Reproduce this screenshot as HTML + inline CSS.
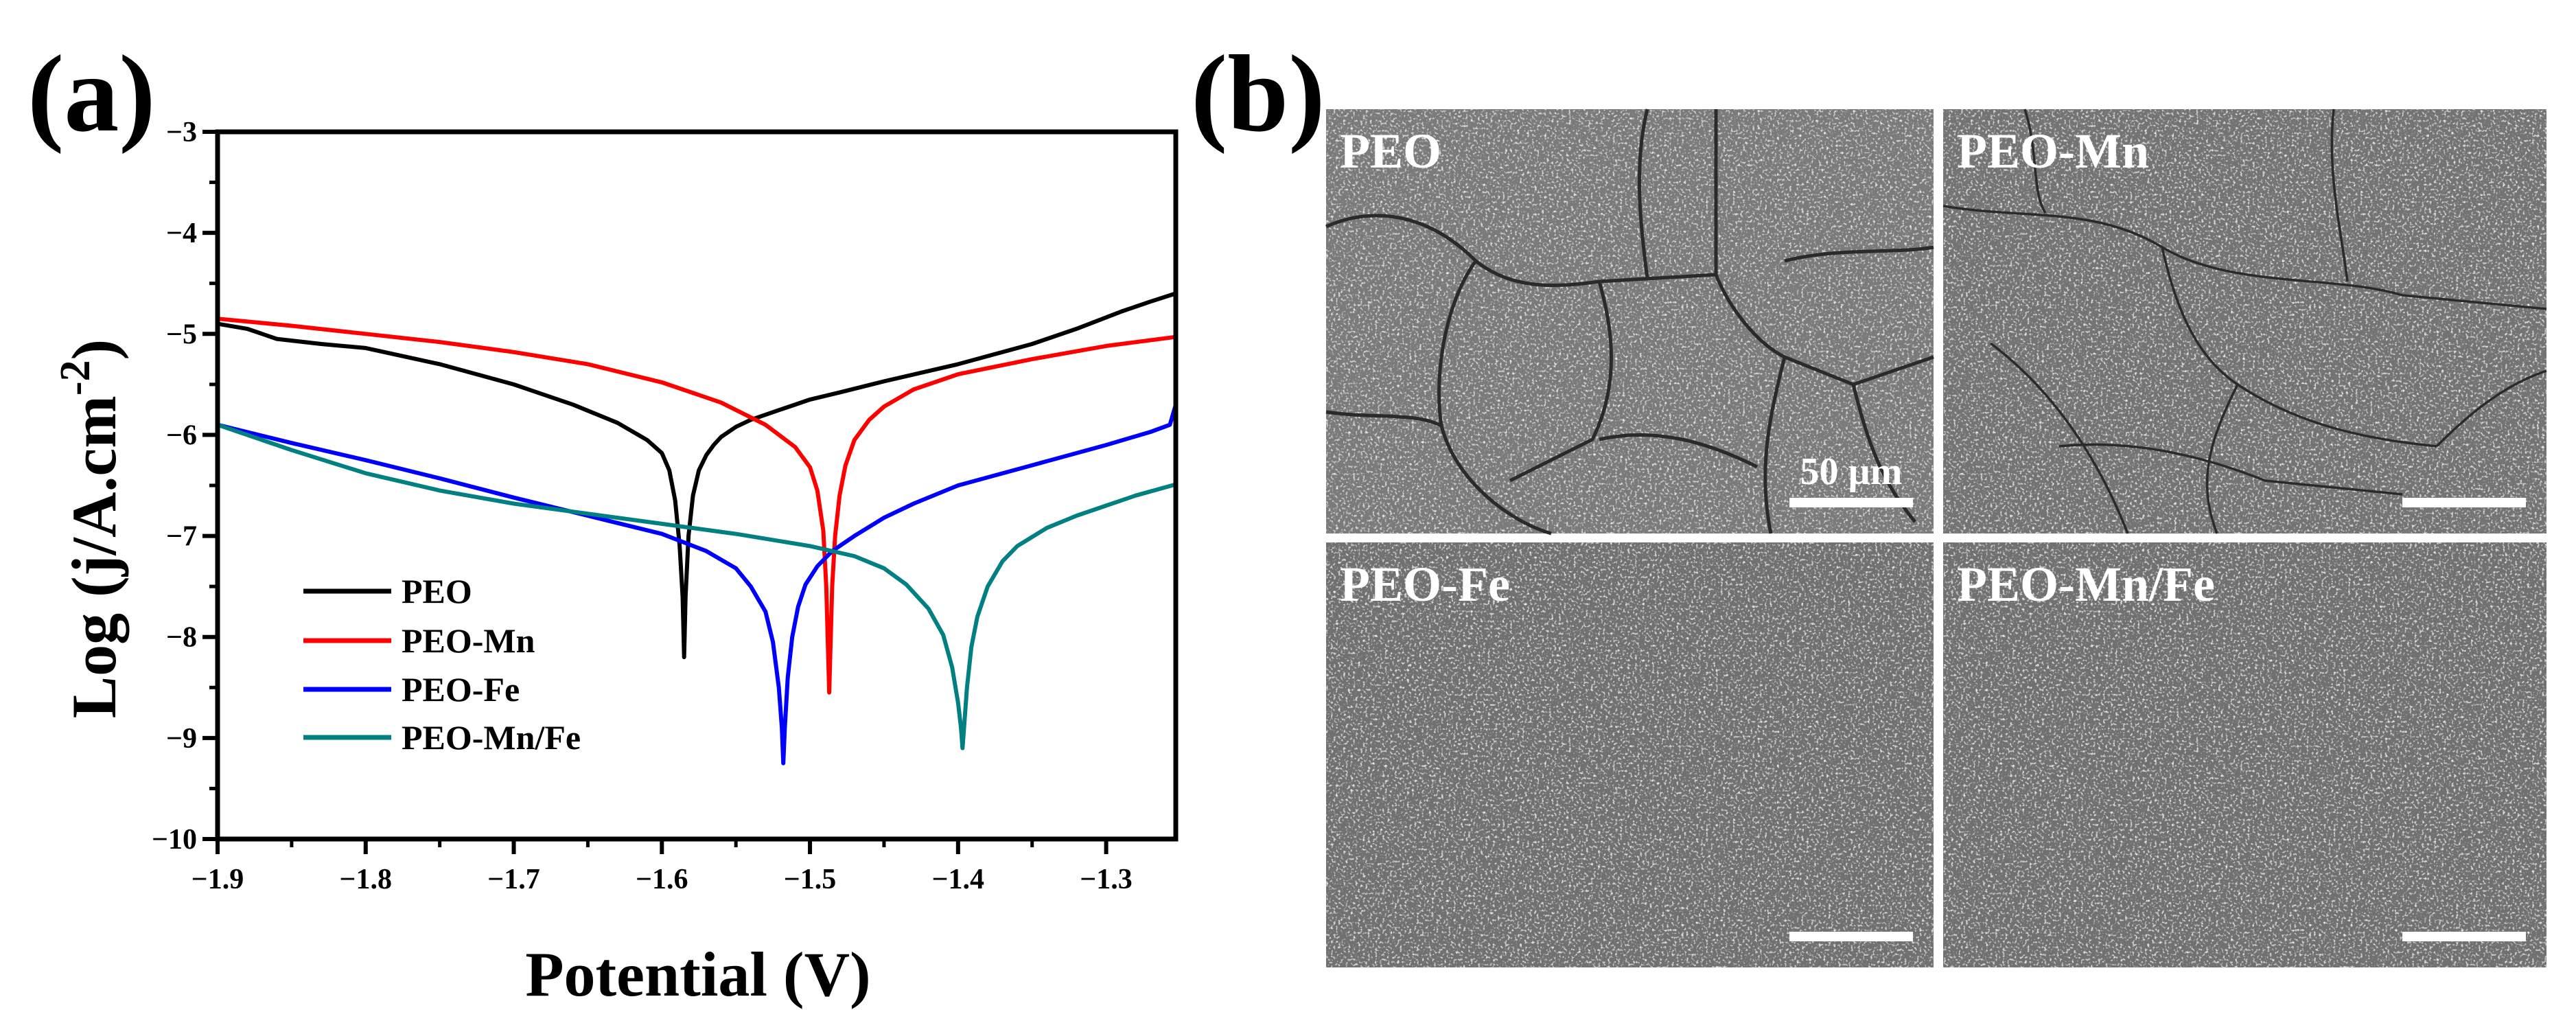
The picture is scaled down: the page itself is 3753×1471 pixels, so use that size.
<!DOCTYPE html>
<html><head><meta charset="utf-8">
<style>
html,body{margin:0;padding:0;background:#fff;}
body{width:3753px;height:1471px;overflow:hidden;position:relative;font-family:"Liberation Serif",serif;}
svg text{font-family:"Liberation Serif",serif;font-weight:bold;}
</style></head>
<body>
<svg id="chart" width="3753" height="1471" viewBox="0 0 3753 1471" xmlns="http://www.w3.org/2000/svg" style="position:absolute;left:0;top:0">
<defs>
<filter id="noise" x="0" y="0" width="100%" height="100%">
<feTurbulence type="fractalNoise" baseFrequency="0.28" numOctaves="2" seed="3" result="t"/>
<feColorMatrix type="matrix" values="0 0 0 0 0.92  0 0 0 0 0.92  0 0 0 0 0.92  3.2 0 0 0 -1.75" result="dots"/>
<feComposite in="dots" in2="SourceGraphic" operator="over"/>
</filter>
</defs>
<text x="40" y="190" font-size="160">(a)</text>
<text x="1735" y="190" font-size="160">(b)</text>
<g id="plot"></g>
<g id="sem"></g>
</svg>
<script>
const xTicks=[-1.9,-1.8,-1.7,-1.6,-1.5,-1.4,-1.3];
const yTicks=[-3,-4,-5,-6,-7,-8,-9,-10];
const seriesNames=["PEO","PEO-Mn","PEO-Fe","PEO-Mn/Fe"];
const seriesColors=["#000000","#ff0000","#0000ff","#008080"];
const peoX=[-1.9,-1.88,-1.86,-1.83,-1.8,-1.75,-1.7,-1.66,-1.63,-1.61,-1.6,-1.595,-1.591,-1.588,-1.586,-1.585,-1.584,-1.582,-1.579,-1.575,-1.57,-1.565,-1.56,-1.55,-1.54,-1.52,-1.5,-1.48,-1.45,-1.4,-1.35,-1.32,-1.29,-1.27,-1.253];
const peoY=[-4.9,-4.95,-5.05,-5.1,-5.14,-5.3,-5.5,-5.7,-5.88,-6.05,-6.18,-6.35,-6.65,-7.1,-7.6,-8.2,-7.6,-7.0,-6.6,-6.35,-6.2,-6.1,-6.02,-5.92,-5.85,-5.75,-5.65,-5.58,-5.47,-5.3,-5.1,-4.95,-4.78,-4.68,-4.6];
const mnX=[-1.9,-1.85,-1.8,-1.75,-1.7,-1.65,-1.6,-1.56,-1.53,-1.51,-1.5,-1.495,-1.491,-1.489,-1.487,-1.485,-1.483,-1.48,-1.476,-1.47,-1.46,-1.45,-1.43,-1.4,-1.35,-1.3,-1.253];
const mnY=[-4.85,-4.92,-5.0,-5.08,-5.18,-5.3,-5.48,-5.68,-5.9,-6.12,-6.32,-6.55,-6.95,-7.5,-8.55,-7.5,-7.0,-6.6,-6.3,-6.05,-5.85,-5.72,-5.55,-5.4,-5.25,-5.12,-5.03];
const feX=[-1.9,-1.85,-1.8,-1.75,-1.7,-1.65,-1.6,-1.57,-1.55,-1.54,-1.53,-1.525,-1.521,-1.519,-1.518,-1.517,-1.515,-1.512,-1.508,-1.503,-1.495,-1.485,-1.47,-1.45,-1.43,-1.4,-1.35,-1.3,-1.27,-1.257,-1.253];
const feY=[-5.9,-6.08,-6.25,-6.43,-6.62,-6.8,-6.98,-7.15,-7.32,-7.5,-7.75,-8.05,-8.5,-8.9,-9.25,-8.9,-8.4,-8.0,-7.7,-7.48,-7.3,-7.15,-7.0,-6.82,-6.68,-6.5,-6.3,-6.1,-5.97,-5.9,-5.7];
const mfX=[-1.9,-1.85,-1.8,-1.75,-1.7,-1.65,-1.6,-1.55,-1.5,-1.47,-1.45,-1.435,-1.42,-1.41,-1.404,-1.4,-1.398,-1.397,-1.396,-1.394,-1.391,-1.387,-1.38,-1.37,-1.36,-1.34,-1.32,-1.3,-1.28,-1.253];
const mfY=[-5.9,-6.15,-6.38,-6.55,-6.68,-6.78,-6.88,-6.98,-7.1,-7.2,-7.32,-7.48,-7.72,-7.98,-8.3,-8.65,-8.9,-9.1,-8.9,-8.5,-8.1,-7.8,-7.5,-7.25,-7.1,-6.92,-6.8,-6.7,-6.6,-6.49];
const allX=[peoX,mnX,feX,mfX], allY=[peoY,mnY,feY,mfY];

const NS="http://www.w3.org/2000/svg";
const L=317,R=1713,T=192,B=1222, X0=-1.9,X1=-1.253,Y0=-10,Y1=-3;
const sx=v=>L+(v-X0)/(X1-X0)*(R-L);
const sy=v=>B-(v-Y0)/(Y1-Y0)*(B-T);
const plot=document.getElementById('plot');
function mk(tag,attrs,parent){const e=document.createElementNS(NS,tag);for(const k in attrs)e.setAttribute(k,attrs[k]);(parent||plot).appendChild(e);return e;}

allX.forEach((xs,i)=>{
  const d=xs.map((x,j)=>(j?'L':'M')+sx(x).toFixed(1)+','+sy(allY[i][j]).toFixed(1)).join(' ');
  const p=mk('path',{d:d,fill:'none',stroke:seriesColors[i],'stroke-width':6,'stroke-linejoin':'round'});
  
  
});
const fr=mk('rect',{x:L,y:T,width:R-L,height:B-T,fill:'none',stroke:'#000','stroke-width':7});


yTicks.forEach(v=>{
  const y=sy(v);
  mk('line',{x1:L-22,x2:L,y1:y,y2:y,stroke:'#000','stroke-width':6});
  if(v>Y0){mk('line',{x1:L-12,x2:L,y1:sy(v-0.5),y2:sy(v-0.5),stroke:'#000','stroke-width':5});}
  const t=mk('text',{x:L-30,y:y+14,'font-size':42,'text-anchor':'end'});
  t.textContent='\u2212'+Math.abs(v);
  
  
});
xTicks.forEach(v=>{
  const x=sx(v);
  mk('line',{x1:x,x2:x,y1:B,y2:B+22,stroke:'#000','stroke-width':6});
  if(v+0.05<X1)mk('line',{x1:sx(v+0.05),x2:sx(v+0.05),y1:B,y2:B+12,stroke:'#000','stroke-width':5});
  const t=mk('text',{x:x,y:B+72,'font-size':42,'text-anchor':'middle'});
  t.textContent='\u2212'+Math.abs(v).toFixed(1);
  
  
});
const xt=mk('text',{x:1017,y:1450,'font-size':92,'text-anchor':'middle'});
xt.textContent='Potential (V)';


const yt=mk('text',{x:0,y:0,'font-size':92,'text-anchor':'middle',transform:'translate(168,770) rotate(-90)'});
yt.innerHTML='Log (j/A.cm<tspan dy="-38" font-size="62">-2</tspan><tspan dy="38">)</tspan>';


const legY=[861,933,1004,1074];
seriesNames.forEach((n,i)=>{
  const g=mk('g',{});
  
  
  mk('line',{x1:442,x2:570,y1:legY[i],y2:legY[i],stroke:seriesColors[i],'stroke-width':7},g);
  const t=mk('text',{x:585,y:legY[i]+17,'font-size':50},g);t.textContent=n;
});

const sem=document.getElementById('sem');
const panels=[{x:1932,y:159,w:885,h:618,n:'PEO',c:'#7a7a7a'},{x:2831,y:159,w:879,h:618,n:'PEO-Mn',c:'#737373'},
{x:1932,y:790,w:885,h:619,n:'PEO-Fe',c:'#6f6f6f'},{x:2831,y:790,w:879,h:619,n:'PEO-Mn/Fe',c:'#6f6f6f'}];
const cracks=[
["M1932,330 C2000,300 2080,310 2150,380 C2200,420 2260,420 2330,410 L2500,400","M2150,380 C2100,450 2090,560 2100,620 C2120,700 2200,760 2260,777","M2330,410 C2350,480 2360,560 2320,640 L2200,700","M2500,159 L2500,400 C2520,450 2560,500 2600,520 L2700,560 L2817,520","M2600,520 C2580,600 2560,680 2580,777","M2330,640 C2420,620 2500,650 2560,680","M1932,600 C2000,610 2060,600 2100,620","M2400,159 C2380,240 2390,330 2400,405","M2600,380 C2680,360 2760,370 2817,360","M2700,560 C2720,640 2740,700 2790,760"],
["M2831,300 C2950,320 3050,300 3150,360 C3250,420 3400,400 3500,430 L3710,450","M3150,360 C3170,450 3200,520 3260,560 C3350,620 3450,640 3550,650","M2900,500 C2980,560 3050,650 3100,777","M3400,159 C3390,250 3410,330 3420,410","M3260,560 C3220,640 3200,700 3230,777","M2950,159 C2970,220 2960,280 2980,310","M3550,650 C3600,600 3650,560 3710,540","M3000,650 C3100,640 3200,660 3300,700 L3500,720"]
];
panels.forEach((p,i)=>{
  const g=document.createElementNS(NS,'g');sem.appendChild(g);
  
  
  mk('rect',{x:p.x,y:p.y,width:p.w,height:p.h,fill:p.c,filter:'url(#noise)'},g);
  (cracks[i]||[]).forEach(d=>mk('path',{d:d,fill:'none',stroke:'#2a2a2a','stroke-width':i===0?5:3.5},g));
  const t=mk('text',{x:p.x+20,y:p.y+85,'font-size':72,fill:'#fff'},g);t.textContent=p.n;
  mk('rect',{x:p.x+p.w-210,y:p.y+p.h-52,width:180,height:14,fill:'#fff'},g);
  if(i===0){const s=mk('text',{x:p.x+p.w-120,y:p.y+p.h-72,'font-size':56,fill:'#fff','text-anchor':'middle'},g);s.textContent='50 \u00b5m';}
});
</script>
</body></html>
